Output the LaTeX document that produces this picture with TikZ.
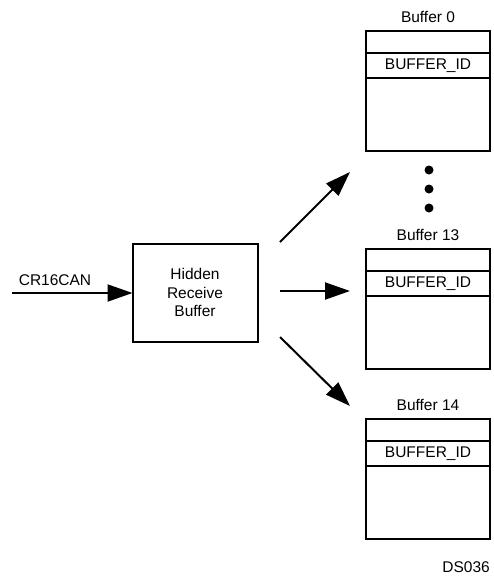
\documentclass[tikz,border=0pt]{standalone}
\usepackage{fontspec}
\setmainfont{Liberation Sans}
\usetikzlibrary{arrows.meta,calc}
\begin{document}
\begin{tikzpicture}[x=1pt,y=-1pt,
  txt/.style={font=\fontsize{15.5}{18.5}\selectfont, inner sep=0pt},
  cell/.style={draw, line width=2pt, minimum width=124pt, inner sep=0pt, outer sep=0pt, anchor=north,
    font=\fontsize{15.5}{18.5}\selectfont},
  arr/.style={line width=2pt, -{Triangle[length=25pt,width=17pt]}},
  dot/.style={circle, fill, inner sep=0pt, minimum size=9pt}]
\useasboundingbox (0,0) rectangle (493,576);

% Hidden receive buffer
\node[draw, line width=2pt, outer sep=0pt, minimum width=125pt, minimum height=98pt, align=center,
  font=\fontsize{15.5}{18.5}\selectfont] (hid) at (195,292.5) {Hidden\\Receive\\Buffer};

% input
\coordinate (in) at (12,293);
\draw[arr] (in) -- (in -| hid.west);
\node[txt, anchor=base] (inlbl) at (55,285) {CR16CAN};

% buffers
\foreach \n/\t/\l in {b0/31/Buffer 0, b13/249/Buffer 13, b14/419/Buffer 14}{
  \node[cell, minimum height=22pt] (\n a) at (428,\t) {};
  \node[cell, minimum height=25pt] (\n id) at (\n a.south) {BUFFER\_ID};
  \node[cell, minimum height=73pt] (\n body) at (\n id.south) {};
  \node[txt, anchor=base] (\n lbl) at ($(428,\t)+(0,-9)$) {\l};
}

% dots
\node[dot] (d1) at (429,170) {};
\node[dot] (d2) at (429,189) {};
\node[dot] (d3) at (429,208) {};

% output arrows
\coordinate (s1) at (280,242); \coordinate (e1) at (350,172);
\coordinate (s2) at (280,291); \coordinate (e2) at (350,291);
\coordinate (s3) at (280,337); \coordinate (e3) at (350,406);
\draw[arr] (s1) -- (e1);
\draw[arr] (s2) -- (e2);
\draw[arr] (s3) -- (e3);

\node[txt, anchor=base east] (ds) at (490,572) {DS036};
\end{tikzpicture}
\end{document}
